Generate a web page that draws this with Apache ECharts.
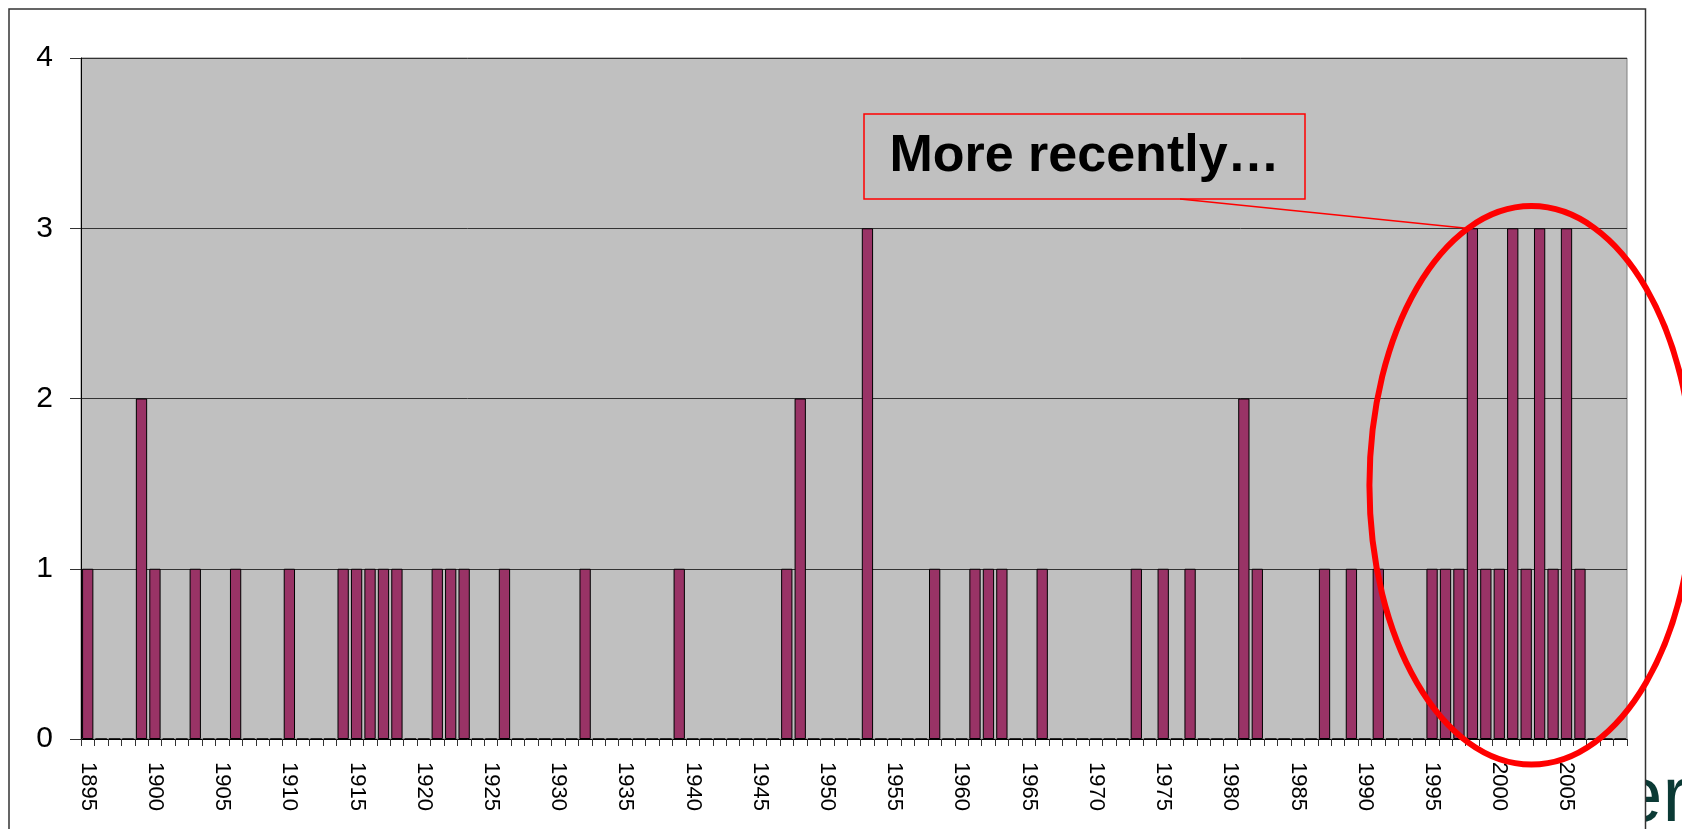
<!DOCTYPE html>
<html>
<head>
<meta charset="utf-8">
<script src="https://cdn.jsdelivr.net/npm/echarts@6/dist/echarts.min.js"></script>
<style>
  html, body { margin: 0; padding: 0; background: #ffffff; }
  #main { width: 1682px; height: 829px; }
</style>
</head>
<body>
<div id="main"></div>
<script>
// Year categories along the horizontal axis
const years = [
  '1895','1896','1897','1898','1899','1900','1901','1902','1903','1904',
  '1905','1906','1907','1908','1909','1910','1911','1912','1913','1914',
  '1915','1916','1917','1918','1919','1920','1921','1922','1923','1924',
  '1925','1926','1927','1928','1929','1930','1931','1932','1933','1934',
  '1935','1936','1937','1938','1939','1940','1941','1942','1943','1944',
  '1945','1946','1947','1948','1949','1950','1951','1952','1953','1954',
  '1955','1956','1957','1958','1959','1960','1961','1962','1963','1964',
  '1965','1966','1967','1968','1969','1970','1971','1972','1973','1974',
  '1975','1976','1977','1978','1979','1980','1981','1982','1983','1984',
  '1985','1986','1987','1988','1989','1990','1991','1992','1993','1994',
  '1995','1996','1997','1998','1999','2000','2001','2002','2003','2004',
  '2005','2006','2007','2008','2009'
];

// Number of events per year (same order as years)
const counts = [
  1,0,0,0,2,1,0,0,1,0,
  0,1,0,0,0,1,0,0,0,1,
  1,1,1,1,0,0,1,1,1,0,
  0,1,0,0,0,0,0,1,0,0,
  0,0,0,0,1,0,0,0,0,0,
  0,0,1,2,0,0,0,0,3,0,
  0,0,0,1,0,0,1,1,1,0,
  0,1,0,0,0,0,0,0,1,0,
  1,0,1,0,0,0,2,1,0,0,
  0,0,1,0,1,0,1,0,0,0,
  1,1,1,3,1,1,3,1,3,1,
  3,1,0,0,0
];

// Value axis ticks
const yTicks = [0, 1, 2, 3, 4];

// Callout text and the year it points to
const calloutText = 'More recently\u2026';
const calloutYear = '1998';

const FONT = '"Liberation Sans", Arial, sans-serif';

const chart = echarts.init(document.getElementById('main'));

chart.setOption({
  backgroundColor: '#ffffff',
  animation: false,
  grid: {
    left: 81, right: 55, top: 58, bottom: 90,
    show: true,
    backgroundColor: '#C0C0C0',
    borderColor: '#808080',
    borderWidth: 1
  },
  xAxis: {
    type: 'category',
    data: years,
    boundaryGap: true,
    axisLine: { lineStyle: { color: '#000000', width: 1 } },
    axisTick: { show: true, interval: 0, length: 7, lineStyle: { color: '#333333' } },
    axisLabel: {
      interval: 4,
      rotate: -90,
      margin: 23,
      fontSize: 22,
      color: '#000000',
      fontFamily: FONT
    },
    splitLine: { show: false }
  },
  yAxis: {
    type: 'value',
    min: yTicks[0],
    max: yTicks[yTicks.length - 1],
    interval: 1,
    axisLine: { show: true, lineStyle: { color: '#000000', width: 1 } },
    axisTick: { show: true, length: 11, lineStyle: { color: '#333333' } },
    axisLabel: { fontSize: 30, margin: 28, color: '#000000', fontFamily: FONT },
    splitLine: { show: true, lineStyle: { color: '#333333', width: 1 } }
  },
  series: [{
    type: 'bar',
    data: counts,
    barCategoryGap: '16%',
    itemStyle: { color: '#993366', borderColor: '#000000', borderWidth: 1 }
  }]
});

// Annotation layer: callout box, leader line, highlight ellipse, frame
const toPx = (xi, v) => chart.convertToPixel({ gridIndex: 0 }, [xi, v]);
const idxCallout = years.indexOf(calloutYear);
const band = toPx(1, 0)[0] - toPx(0, 0)[0];
const barW = band * 0.84;
const tip = toPx(idxCallout, counts[idxCallout]);

const idxMid = years.indexOf('2002');
const ctr = toPx(idxMid, 1.49);
const cx = ctr[0] + 0.39 * band;
const cy = ctr[1];
const rx = 12.05 * band;
const ry = cy - toPx(idxMid, 3.13)[1];

chart.setOption({
  graphic: [
    // partial slide title peeking out on the right
    {
      type: 'text', z: 1, left: 1619, top: 760,
      style: { text: 'er', fontSize: 78, fontFamily: FONT, fill: '#0b3a35' }
    },
    {
      type: 'rect', z: 2, shape: { x: 1600, y: 772, width: 45, height: 60 },
      style: { fill: '#ffffff' }
    },
    // outer frame
    {
      type: 'rect', z: 3, shape: { x: 9, y: 9, width: 1636.5, height: 900 },
      style: { fill: 'none', stroke: '#333333', lineWidth: 1.5 }
    },
    // callout box
    {
      type: 'rect', z: 10, shape: { x: 864, y: 114, width: 441, height: 85 },
      style: { fill: 'none', stroke: '#FF0000', lineWidth: 1.5 }
    },
    {
      type: 'text', z: 11, x: 1084.5, y: 157,
      style: {
        text: calloutText, fontSize: 52, fontWeight: 'bold', fontFamily: FONT,
        fill: '#000000', align: 'center', verticalAlign: 'middle'
      }
    },
    // leader line to the top of the pointed bar
    {
      type: 'line', z: 10,
      shape: { x1: 1180, y1: 199, x2: tip[0] - barW / 2, y2: tip[1] },
      style: { stroke: '#FF0000', lineWidth: 1.5 }
    },
    // highlight ellipse around the recent cluster
    {
      type: 'ellipse', z: 12,
      shape: { cx: cx, cy: cy, rx: rx, ry: ry },
      style: { fill: 'none', stroke: '#FF0000', lineWidth: 6 }
    }
  ]
});
</script>
</body>
</html>
